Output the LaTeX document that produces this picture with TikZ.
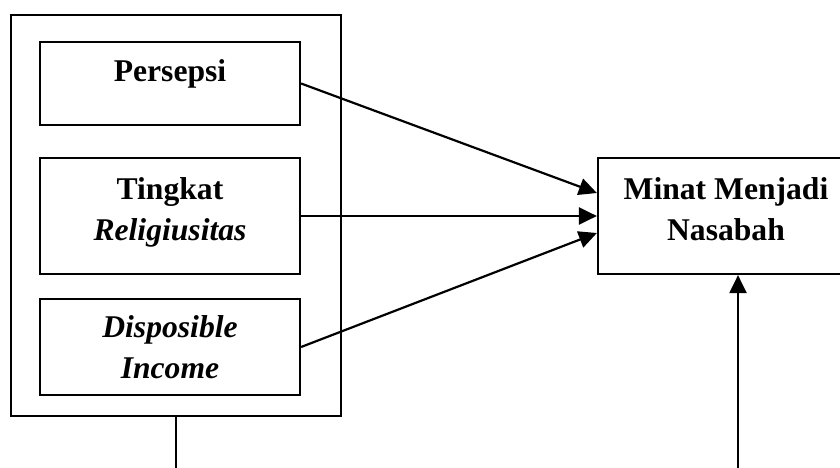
\documentclass[tikz,border=0pt]{standalone}
\usepackage{fontspec}
\setmainfont{Liberation Serif}
\usetikzlibrary{arrows.meta, positioning}

\begin{document}
\begin{tikzpicture}[
    box/.style={rectangle, draw, line width=1.25pt, minimum width=5.2cm, inner sep=0pt},
    lbl/.style={align=center, font=\fontsize{18}{23.3}\selectfont\bfseries, inner sep=0pt},
    arrow/.style={-{Triangle[length=0.36cm, width=0.34cm]}, line width=1.25pt}
]
\clip (0,0) rectangle (16.8,9.34);
\useasboundingbox (0,0) rectangle (16.8,9.34);

% Outer frame round the three variables
\node[box, minimum width=6.6cm, minimum height=8.02cm] (frame) at (3.52,5.03) {};

% Independent variables
\node[box, minimum height=1.66cm] (persepsi) at (3.4,7.67) {};
\node[lbl] (persepsi-txt) at ([yshift=0.2cm]persepsi.center) {Persepsi};

\node[box, minimum height=2.32cm] (tingkat) at (3.4,5.02) {};
\node[lbl] (tingkat-txt) at ([yshift=0.08cm]tingkat.center) {Tingkat\\\itshape Religiusitas};

\node[box, minimum height=1.92cm] (income) at (3.4,2.40) {};
\node[lbl] (income-txt) at (income.center) {\itshape Disposible\\\itshape Income};

% Dependent variable
\node[box, minimum width=5.12cm, minimum height=2.32cm] (minat) at (14.52,5.02) {};
\node[lbl] (minat-txt) at ([yshift=0.14cm]minat.center) {Minat Menjadi\\Nasabah};

% Arrows
\draw[arrow] (persepsi.east) -- ([yshift=0.46cm]minat.west);
\draw[arrow] (tingkat.east) -- (minat.west);
\draw[arrow] (income.east) -- ([yshift=-0.34cm]minat.west);

% Lines leaving at the bottom
\coordinate (below-frame) at (frame.south |- 0,-0.1);
\coordinate (below-minat) at (14.76,-0.1);
\draw[line width=1.25pt] (frame.south) -- (below-frame);
\draw[arrow] (below-minat) -- (below-minat |- minat.south);

\end{tikzpicture}
\end{document}
